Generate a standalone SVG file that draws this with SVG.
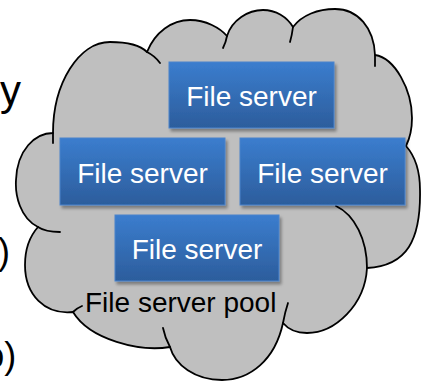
<svg xmlns="http://www.w3.org/2000/svg" width="421" height="381" viewBox="0 0 421 381">
<style>
.cloud{fill:#bfbfbf;stroke:#000;stroke-width:1.8;stroke-linejoin:round}
.tail{fill:none;stroke:#000;stroke-width:1.8;stroke-linecap:round}
.box{fill:url(#blue);stroke:#4a84cc;stroke-width:1;filter:url(#sh)}
.lbl{font-family:"Liberation Sans",Arial,sans-serif;font-size:28px;fill:#fff;text-anchor:middle}
.side{font-family:"Liberation Sans",Arial,sans-serif;fill:#000}
</style>
<defs>
<linearGradient id="blue" x1="0" y1="0" x2="0" y2="1">
<stop offset="0" stop-color="#3b7dce"/>
<stop offset="1" stop-color="#2c5d9c"/>
</linearGradient>
<filter id="sh" x="-10%" y="-10%" width="125%" height="130%">
<feDropShadow dx="2" dy="3" stdDeviation="1.5" flood-color="#000" flood-opacity="0.35"/>
</filter>
</defs>
<g id="left-text">
<text class="side" x="0" y="105" font-size="42">y</text>
<text class="side" x="-2" y="264" font-size="36">)</text>
<text class="side" x="-15.7" y="368" font-size="36">o)</text>
</g>
<g id="pool">
<path class="cloud" d="M53,133 C53,83 79,42 110,42 C125,42 140,45 147,52 C155,32 172,20 190,20 C206,20 220,28 227,36 C232,20 248,10 263,10 C276,10 287,17 293,27 C302,15 318,9 335,9 C358,9 374,28 375,55 C395,58 412,90 412,118 C412,128 410,138 406,146 C414,155 420,170 420,190 C421,240 407,266 367,268 C365,305 335,333 307,333 C296,333 288,329 283,323 C275,360 250,380 222,380 C195,380 175,365 170,347 C140,352 90,340 73,312 C45,315 25,295 25,265 C25,250 30,236 38,227 C20,218 15,195 16,180 C17,150 35,133 53,133 Z"/>
<path class="tail" d="M147,52 Q155,56 160,63 M227,36 Q226,42 223,48 M293,27 Q292,35 290,42 M375,55 L375,66 M53,133 L53,143 M367,268 C367,240 355,215 336,206 M283,323 Q285,312 288,303 M170,347 Q165,338 163,328 M73,312 Q77,308 82,306 M38,227 C44,231 51,232 60,232"/>
<text class="side" x="85" y="312" font-size="28">File server pool</text>
</g>
<g id="server-top">
<rect class="box" x="169" y="62" width="165" height="66"/>
<text class="lbl" x="251.5" y="106">File server</text>
</g>
<g id="server-left">
<rect class="box" x="60" y="138" width="165" height="67"/>
<text class="lbl" x="142.5" y="182.5">File server</text>
</g>
<g id="server-right">
<rect class="box" x="240" y="138" width="165" height="67"/>
<text class="lbl" x="322.5" y="182.5">File server</text>
</g>
<g id="server-bottom">
<rect class="box" x="115" y="215" width="164" height="66"/>
<text class="lbl" x="197" y="259">File server</text>
</g>
<g id="connectors"></g>
</svg>
